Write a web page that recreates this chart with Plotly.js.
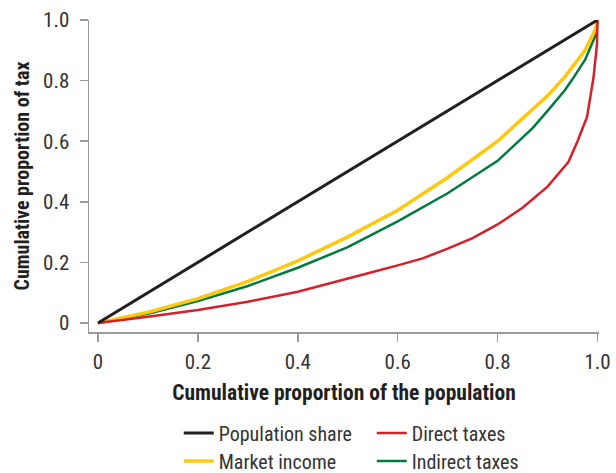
<!DOCTYPE html>
<html>
<head>
<meta charset="utf-8">
<script src="https://cdn.plot.ly/plotly-3.0.1.min.js"></script>
<style>html,body{margin:0;padding:0;background:#fff;}#chart{width:616px;height:473px;}</style>
</head>
<body>
<div id="chart"></div>
<script>
// Population share (line of equality)
const popX = [0, 1];
const popY = [0, 1];

// Market income
const marketX = [0, 0.1, 0.2, 0.3, 0.4, 0.5, 0.6, 0.7, 0.8, 0.87, 0.9, 0.935, 0.95, 0.975, 0.995, 1.0];
const marketY = [0, 0.035, 0.08, 0.137, 0.205, 0.284, 0.372, 0.48, 0.6, 0.703, 0.75, 0.813, 0.845, 0.9, 0.967, 1.0];

// Indirect taxes
const indirectX = [0, 0.1, 0.2, 0.3, 0.4, 0.5, 0.6, 0.7, 0.8, 0.87, 0.9, 0.935, 0.95, 0.975, 0.995, 1.0];
const indirectY = [0, 0.03, 0.072, 0.122, 0.182, 0.25, 0.335, 0.428, 0.535, 0.643, 0.7, 0.769, 0.805, 0.868, 0.945, 1.0];

// Direct taxes
const directX = [0, 0.05, 0.1, 0.2, 0.3, 0.4, 0.5, 0.55, 0.6, 0.65, 0.7, 0.75, 0.8, 0.85, 0.9, 0.942, 0.96, 0.979, 0.992, 0.999, 1.0];
const directY = [0, 0.01, 0.02, 0.043, 0.07, 0.103, 0.145, 0.168, 0.19, 0.213, 0.245, 0.28, 0.325, 0.38, 0.45, 0.532, 0.6, 0.68, 0.81, 0.92, 1.0];

const tickVals = [0, 0.2, 0.4, 0.6, 0.8, 1.0];
const tickText = ['0', '0.2', '0.4', '0.6', '0.8', '1.0'];

const FONT = "'Liberation Sans Narrow', 'Roboto Condensed', 'Arial Narrow', 'Liberation Sans', sans-serif";

const traces = [
  {x: indirectX, y: indirectY, name: 'Indirect taxes', mode: 'lines', line: {color: '#007a3d', width: 2.5}, legend: 'legend2', legendrank: 2},
  {x: marketX, y: marketY, name: 'Market income', mode: 'lines', line: {color: '#fec80f', width: 3.5}, legend: 'legend2', legendrank: 1},
  {x: directX, y: directY, name: 'Direct taxes', mode: 'lines', line: {color: '#d71f2a', width: 2.5}, legend: 'legend', legendrank: 2},
  {x: popX, y: popY, name: 'Population share', mode: 'lines', line: {color: '#231f20', width: 3}, legend: 'legend', legendrank: 1}
];

const legendBase = {
  orientation: 'h',
  x: 0.176, xanchor: 'left',
  yanchor: 'middle',
  entrywidth: 148,
  font: {family: FONT, size: 20, color: '#333'},
  traceorder: 'normal',
  bgcolor: 'rgba(0,0,0,0)'
};

const axisBase = {
  tickvals: tickVals,
  ticktext: tickText,
  showgrid: false, zeroline: false,
  showline: true, linecolor: '#9a9a9a', linewidth: 1.5,
  ticks: 'outside', ticklen: 8, tickcolor: '#9a9a9a', tickwidth: 1.5,
  tickfont: {family: FONT, size: 21, color: '#333'}
};

const layout = {
  width: 616, height: 473,
  margin: {l: 89, r: 17, t: 20, b: 141, autoexpand: false},
  paper_bgcolor: '#fff', plot_bgcolor: '#fff',
  font: {family: FONT, color: '#333', size: 20},
  showlegend: true,
  xaxis: Object.assign({}, axisBase, {
    range: [-0.018, 1.003],
    ticklabelstandoff: 2,
    title: {text: 'Cumulative proportion of the population', font: {family: FONT, size: 21.5, color: '#231f20', weight: 'bold'}, standoff: 12}
  }),
  yaxis: Object.assign({}, axisBase, {
    range: [-0.03, 1.0],
    ticklabelstandoff: 6,
    title: {text: 'Cumulative proportion of tax', font: {family: FONT, size: 20, color: '#231f20', weight: 'bold'}, standoff: 8}
  }),
  legend: Object.assign({}, legendBase, {y: -0.3237}),
  legend2: Object.assign({}, legendBase, {y: -0.4135})
};

Plotly.newPlot('chart', traces, layout, {displayModeBar: false, staticPlot: true});
</script>
</body>
</html>
